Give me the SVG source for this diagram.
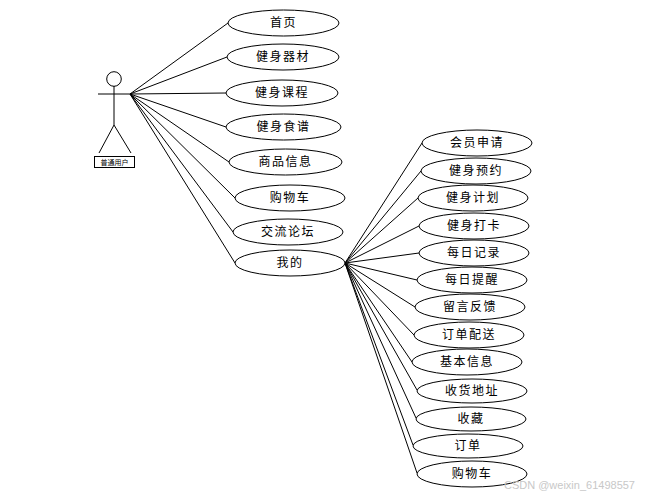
<svg xmlns="http://www.w3.org/2000/svg" width="648" height="496" viewBox="0 0 648 496">
<style>
.uc ellipse{fill:#fff;stroke:#000;stroke-width:1}
.uc text{font-family:"Noto Sans CJK SC","Liberation Sans",sans-serif;font-size:12px;letter-spacing:1.5px;text-anchor:middle;fill:#000}
#conn line{stroke:#000;stroke-width:1}
.actor{fill:none;stroke:#000;stroke-width:1}
</style>
<rect width="648" height="496" fill="#fff"/>
<g id="conn">
<line x1="130" y1="94" x2="228" y2="23"/>
<line x1="130" y1="94" x2="227" y2="57"/>
<line x1="130" y1="94" x2="226" y2="93"/>
<line x1="130" y1="94" x2="226" y2="127"/>
<line x1="130" y1="94" x2="229" y2="162"/>
<line x1="130" y1="94" x2="235" y2="198"/>
<line x1="130" y1="94" x2="233" y2="232"/>
<line x1="130" y1="94" x2="235" y2="263"/>
<line x1="345" y1="263" x2="422" y2="143"/>
<line x1="345" y1="263" x2="421" y2="171"/>
<line x1="345" y1="263" x2="418" y2="198"/>
<line x1="345" y1="263" x2="419" y2="226"/>
<line x1="345" y1="263" x2="419" y2="253"/>
<line x1="345" y1="263" x2="417" y2="280"/>
<line x1="345" y1="263" x2="415" y2="307"/>
<line x1="345" y1="263" x2="414" y2="335"/>
<line x1="345" y1="263" x2="412" y2="362"/>
<line x1="345" y1="263" x2="417" y2="390"/>
<line x1="345" y1="263" x2="416" y2="418"/>
<line x1="345" y1="263" x2="413" y2="445"/>
<line x1="345" y1="263" x2="417" y2="473"/>
</g>
<g id="actor">
<circle class="actor" cx="114" cy="79" r="7.3"/>
<line class="actor" x1="114" y1="86" x2="114" y2="125"/>
<line class="actor" x1="98" y1="94" x2="130" y2="94"/>
<line class="actor" x1="114" y1="125" x2="99" y2="153"/>
<line class="actor" x1="114" y1="125" x2="131" y2="153"/>
<rect x="94.5" y="156.5" width="40" height="11" fill="#fff" stroke="#000"/>
<text x="114.5" y="165" font-family="Noto Sans CJK SC, sans-serif" font-size="7" text-anchor="middle">普通用户</text>
</g>
<g id="n1" class="uc"><ellipse cx="283.5" cy="23" rx="55.5" ry="13"/><text x="283.5" y="27">首页</text></g>
<g id="n2" class="uc"><ellipse cx="283" cy="57" rx="56" ry="13"/><text x="283" y="61">健身器材</text></g>
<g id="n3" class="uc"><ellipse cx="282" cy="93" rx="56" ry="13"/><text x="282" y="97">健身课程</text></g>
<g id="n4" class="uc"><ellipse cx="283.5" cy="127" rx="57.5" ry="13"/><text x="283.5" y="131">健身食谱</text></g>
<g id="n5" class="uc"><ellipse cx="285.5" cy="162" rx="56.5" ry="13"/><text x="285.5" y="166">商品信息</text></g>
<g id="n6" class="uc"><ellipse cx="290" cy="198" rx="55" ry="13"/><text x="290" y="202">购物车</text></g>
<g id="n7" class="uc"><ellipse cx="288" cy="232" rx="55" ry="13"/><text x="288" y="236">交流论坛</text></g>
<g id="n8" class="uc"><ellipse cx="290" cy="263" rx="55" ry="13"/><text x="290" y="267">我的</text></g>
<g id="m1" class="uc"><ellipse cx="477" cy="143" rx="55" ry="13"/><text x="477" y="147">会员申请</text></g>
<g id="m2" class="uc"><ellipse cx="476" cy="171" rx="55" ry="13"/><text x="476" y="175">健身预约</text></g>
<g id="m3" class="uc"><ellipse cx="473" cy="198" rx="55" ry="13"/><text x="473" y="202">健身计划</text></g>
<g id="m4" class="uc"><ellipse cx="474" cy="226" rx="55" ry="13"/><text x="474" y="230">健身打卡</text></g>
<g id="m5" class="uc"><ellipse cx="474" cy="253" rx="55" ry="13"/><text x="474" y="257">每日记录</text></g>
<g id="m6" class="uc"><ellipse cx="472" cy="280" rx="55" ry="13"/><text x="472" y="284">每日提醒</text></g>
<g id="m7" class="uc"><ellipse cx="470" cy="307" rx="55" ry="13"/><text x="470" y="311">留言反馈</text></g>
<g id="m8" class="uc"><ellipse cx="469" cy="335" rx="55" ry="13"/><text x="469" y="339">订单配送</text></g>
<g id="m9" class="uc"><ellipse cx="467" cy="362" rx="55" ry="13"/><text x="467" y="366">基本信息</text></g>
<g id="m10" class="uc"><ellipse cx="472" cy="391" rx="55" ry="12"/><text x="472" y="395">收货地址</text></g>
<g id="m11" class="uc"><ellipse cx="471" cy="419" rx="55" ry="12"/><text x="471" y="423">收藏</text></g>
<g id="m12" class="uc"><ellipse cx="468" cy="446" rx="55" ry="12"/><text x="468" y="450">订单</text></g>
<g id="m13" class="uc"><ellipse cx="472" cy="474" rx="55" ry="13"/><text x="472" y="478">购物车</text></g>
<text x="635" y="489" font-family="Liberation Sans, sans-serif" font-size="11" fill="#c8c8c8" text-anchor="end">CSDN @weixin_61498557</text>
</svg>
